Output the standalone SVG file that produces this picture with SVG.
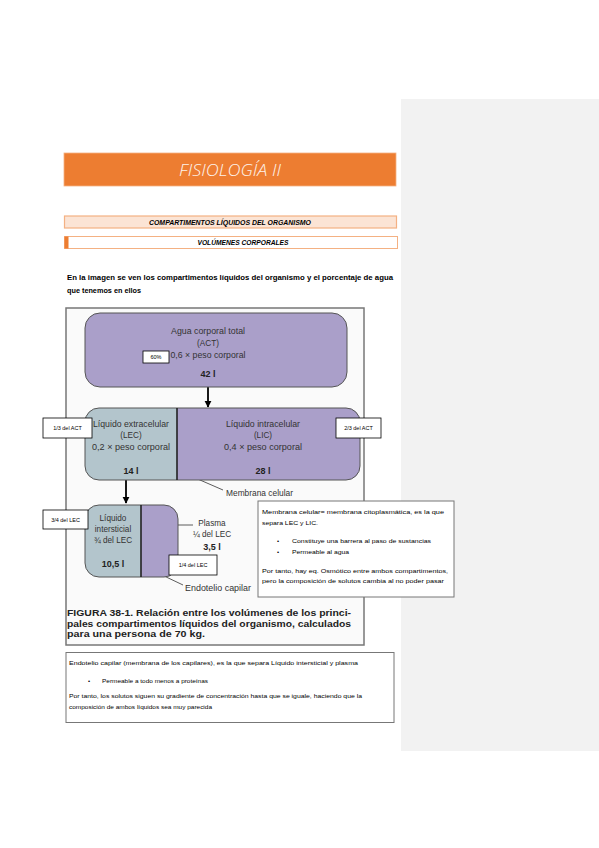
<svg xmlns="http://www.w3.org/2000/svg" width="599" height="848" viewBox="0 0 599 848">
<style>
.doc{font-family:"Liberation Sans",Arial,sans-serif;fill:#000}
.fig{font-family:"Liberation Sans",Arial,sans-serif;fill:#333;font-size:8.2px}
.figb{font-family:"Liberation Sans",Arial,sans-serif;fill:#222;font-size:9px;font-weight:bold}
.lbl{font-family:"Liberation Sans",Arial,sans-serif;fill:#000;font-size:5.5px}
.note{font-family:"Liberation Sans",Arial,sans-serif;fill:#000;font-size:6px}
.tag{fill:#fff;stroke:#000;stroke-width:0.8}
.act{fill:#aa9fc9;stroke:#555;stroke-width:1}
.lec{fill:#b3c5cc}
.lic{fill:#aa9fc9}
.div{stroke:#222;stroke-width:1.6}
.lead{stroke:#333;stroke-width:0.8;fill:none}
.arrow{stroke:#000;stroke-width:1.8;fill:none}
</style>
<defs>
<marker id="ah" viewBox="0 0 10 10" refX="9" refY="5" markerWidth="4" markerHeight="4" orient="auto" markerUnits="strokeWidth">
<path d="M0,0 L10,5 L0,10 z" fill="#000"/>
</marker>
<clipPath id="c1"><rect x="85" y="408" width="275" height="72" rx="14"/></clipPath>
<clipPath id="c2"><rect x="85" y="505" width="93" height="72" rx="14"/></clipPath>
</defs>
<rect x="0" y="0" width="599" height="848" fill="#fff"/>
<rect x="401" y="99" width="198" height="652" fill="#f2f2f2"/>

<g id="header">
<rect x="64" y="153" width="332" height="33" fill="#ed7d31" stroke="#f4b183" stroke-width="0.8"/>
<text x="230" y="176" text-anchor="middle" font-family="'Open Sans','Liberation Sans',sans-serif" font-style="italic" font-weight="300" font-size="16.5" fill="#fdf2ea" textLength="102" lengthAdjust="spacingAndGlyphs">FISIOLOGÍA II</text>
</g>
<g id="sec1">
<rect x="64.5" y="216" width="332" height="12" fill="#fbe4d5" stroke="#f4b183" stroke-width="1.2"/>
<text x="230" y="224.5" text-anchor="middle" class="doc" font-size="6.5" font-weight="bold" font-style="italic" fill="#843c0c" textLength="162" lengthAdjust="spacingAndGlyphs">COMPARTIMENTOS LÍQUIDOS DEL ORGANISMO</text>
</g>
<g id="sec2">
<rect x="64.5" y="236.5" width="333" height="12" fill="#fff" stroke="#f4b183" stroke-width="1"/>
<rect x="64.5" y="236.5" width="4" height="12" fill="#ed7d31"/>
<text x="243" y="245" text-anchor="middle" class="doc" font-size="6.5" font-weight="bold" font-style="italic" fill="#c55a11" textLength="91" lengthAdjust="spacingAndGlyphs">VOLÚMENES CORPORALES</text>
</g>
<g id="intro">
<text x="67" y="280" class="doc" font-size="7.3" font-weight="bold" textLength="326" lengthAdjust="spacingAndGlyphs">En la imagen se ven los compartimentos líquidos del organismo y el porcentaje de agua</text>
<text x="67" y="293" class="doc" font-size="7.3" font-weight="bold" textLength="74" lengthAdjust="spacingAndGlyphs">que tenemos en ellos</text>
</g>

<g id="figure">
<rect x="66" y="308" width="298" height="337" fill="#fafafa" stroke="#777" stroke-width="1.5"/>
</g>

<g id="connectors">
<line x1="208" y1="387" x2="208" y2="407" class="arrow" marker-end="url(#ah)"/>
<line x1="126" y1="480" x2="126" y2="503" class="arrow" marker-end="url(#ah)"/>
<polyline points="177,470 223,490" class="lead"/>
<polyline points="165,525 193,525" class="lead"/>
<polyline points="141,565 183,585" class="lead"/>
</g>

<g id="act">
<rect x="85" y="313" width="262" height="74" rx="15" class="act"/>
<text x="208" y="334" text-anchor="middle" class="fig" textLength="74" lengthAdjust="spacingAndGlyphs">Agua corporal total</text>
<text x="208" y="346" text-anchor="middle" class="fig">(ACT)</text>
<text x="208" y="358" text-anchor="middle" class="fig" textLength="75" lengthAdjust="spacingAndGlyphs">0,6 × peso corporal</text>
<text x="208" y="377" text-anchor="middle" class="figb">42 l</text>
</g>
<g id="tag60">
<rect x="143" y="351" width="26" height="12" class="tag"/>
<text x="156" y="359" text-anchor="middle" class="lbl">60%</text>
</g>

<g id="lec-lic">
<g clip-path="url(#c1)">
<rect x="85" y="408" width="92" height="72" class="lec"/>
<rect x="177" y="408" width="183" height="72" class="lic"/>
</g>
<rect x="85" y="408" width="275" height="72" rx="14" fill="none" stroke="#555" stroke-width="1"/>
<line x1="177" y1="408" x2="177" y2="480" class="div"/>
<text x="131" y="427" text-anchor="middle" class="fig" textLength="76" lengthAdjust="spacingAndGlyphs">Líquido extracelular</text>
<text x="131" y="438" text-anchor="middle" class="fig">(LEC)</text>
<text x="131" y="450" text-anchor="middle" class="fig" textLength="78" lengthAdjust="spacingAndGlyphs">0,2 × peso corporal</text>
<text x="131" y="474" text-anchor="middle" class="figb">14 l</text>
<text x="263" y="427" text-anchor="middle" class="fig" textLength="74" lengthAdjust="spacingAndGlyphs">Líquido intracelular</text>
<text x="263" y="438" text-anchor="middle" class="fig">(LIC)</text>
<text x="263" y="450" text-anchor="middle" class="fig" textLength="78" lengthAdjust="spacingAndGlyphs">0,4 × peso corporal</text>
<text x="263" y="474" text-anchor="middle" class="figb">28 l</text>
</g>
<g id="tag13">
<rect x="43" y="418" width="49" height="20" class="tag"/>
<text x="67.5" y="430" text-anchor="middle" class="lbl">1/3 del ACT</text>
</g>
<g id="tag23">
<rect x="336" y="418" width="45" height="20" class="tag"/>
<text x="358.5" y="430" text-anchor="middle" class="lbl">2/3 del ACT</text>
</g>
<g id="membrana">
<text x="226" y="496" class="fig" textLength="67" lengthAdjust="spacingAndGlyphs">Membrana celular</text>
</g>

<g id="int-plasma">
<g clip-path="url(#c2)">
<rect x="85" y="505" width="56" height="72" class="lec"/>
<rect x="141" y="505" width="37" height="72" class="lic"/>
</g>
<rect x="85" y="505" width="93" height="72" rx="14" fill="none" stroke="#555" stroke-width="1"/>
<line x1="141" y1="505" x2="141" y2="577" class="div"/>
<text x="113" y="521" text-anchor="middle" class="fig">Líquido</text>
<text x="113" y="532" text-anchor="middle" class="fig">intersticial</text>
<text x="113" y="543" text-anchor="middle" class="fig">¾ del LEC</text>
<text x="113" y="567" text-anchor="middle" class="figb">10,5 l</text>
</g>
<g id="plasma">
<text x="212" y="526" text-anchor="middle" class="fig">Plasma</text>
<text x="212" y="537" text-anchor="middle" class="fig">¼ del LEC</text>
<text x="212" y="550" text-anchor="middle" class="figb">3,5 l</text>
</g>
<g id="tag34">
<rect x="43" y="510" width="45" height="19" class="tag"/>
<text x="65.5" y="521.5" text-anchor="middle" class="lbl">3/4 del LEC</text>
</g>
<g id="tag14">
<rect x="169" y="555" width="48" height="20" class="tag"/>
<text x="193" y="567" text-anchor="middle" class="lbl">1/4 del LEC</text>
</g>
<g id="endotelio">
<text x="185" y="591" class="fig" textLength="66" lengthAdjust="spacingAndGlyphs">Endotelio capilar</text>
</g>

<g id="caption">
<text x="67" y="616" class="figb" font-size="8.6" fill="#333" textLength="284" lengthAdjust="spacingAndGlyphs">FIGURA 38-1. Relación entre los volúmenes de los princi-</text>
<text x="67" y="626.5" class="figb" font-size="8.6" fill="#333" textLength="284" lengthAdjust="spacingAndGlyphs">pales compartimentos líquidos del organismo, calculados</text>
<text x="67" y="637" class="figb" font-size="8.6" fill="#333" textLength="138" lengthAdjust="spacingAndGlyphs">para una persona de 70 kg.</text>
</g>

<g id="note-membrana">
<rect x="258" y="501" width="196" height="96" fill="#fff" stroke="#777" stroke-width="1"/>
<text x="262" y="514" class="note" textLength="182" lengthAdjust="spacingAndGlyphs">Membrana celular= membrana citoplasmática, es la que</text>
<text x="262" y="525" class="note" textLength="56" lengthAdjust="spacingAndGlyphs">separa LEC y LIC.</text>
<text x="277" y="543" class="note">•</text>
<text x="292" y="543" class="note" textLength="139" lengthAdjust="spacingAndGlyphs">Constituye una barrera al paso de sustancias</text>
<text x="277" y="554" class="note">•</text>
<text x="292" y="554" class="note" textLength="57" lengthAdjust="spacingAndGlyphs">Permeable al agua</text>
<text x="262" y="573" class="note" textLength="186" lengthAdjust="spacingAndGlyphs">Por tanto, hay eq. Osmótico entre ambos compartimentos,</text>
<text x="262" y="583" class="note" textLength="182" lengthAdjust="spacingAndGlyphs">pero la composición de solutos cambia al no poder pasar</text>
</g>

<g id="note-endotelio">
<rect x="66" y="652.5" width="328" height="70" fill="#fff" stroke="#777" stroke-width="1"/>
<text x="69" y="665" class="note" textLength="289" lengthAdjust="spacingAndGlyphs">Endotelio capilar (membrana de los capilares), es la que separa Líquido intersticial y plasma</text>
<text x="88" y="683" class="note">•</text>
<text x="102" y="683" class="note" textLength="106" lengthAdjust="spacingAndGlyphs">Permeable a todo menos a proteínas</text>
<text x="69" y="698" class="note" textLength="293" lengthAdjust="spacingAndGlyphs">Por tanto, los solutos siguen su gradiente de concentración hasta que se iguale, haciendo que la</text>
<text x="69" y="708.5" class="note" textLength="143" lengthAdjust="spacingAndGlyphs">composición de ambos líquidos sea muy parecida</text>
</g>
</svg>
